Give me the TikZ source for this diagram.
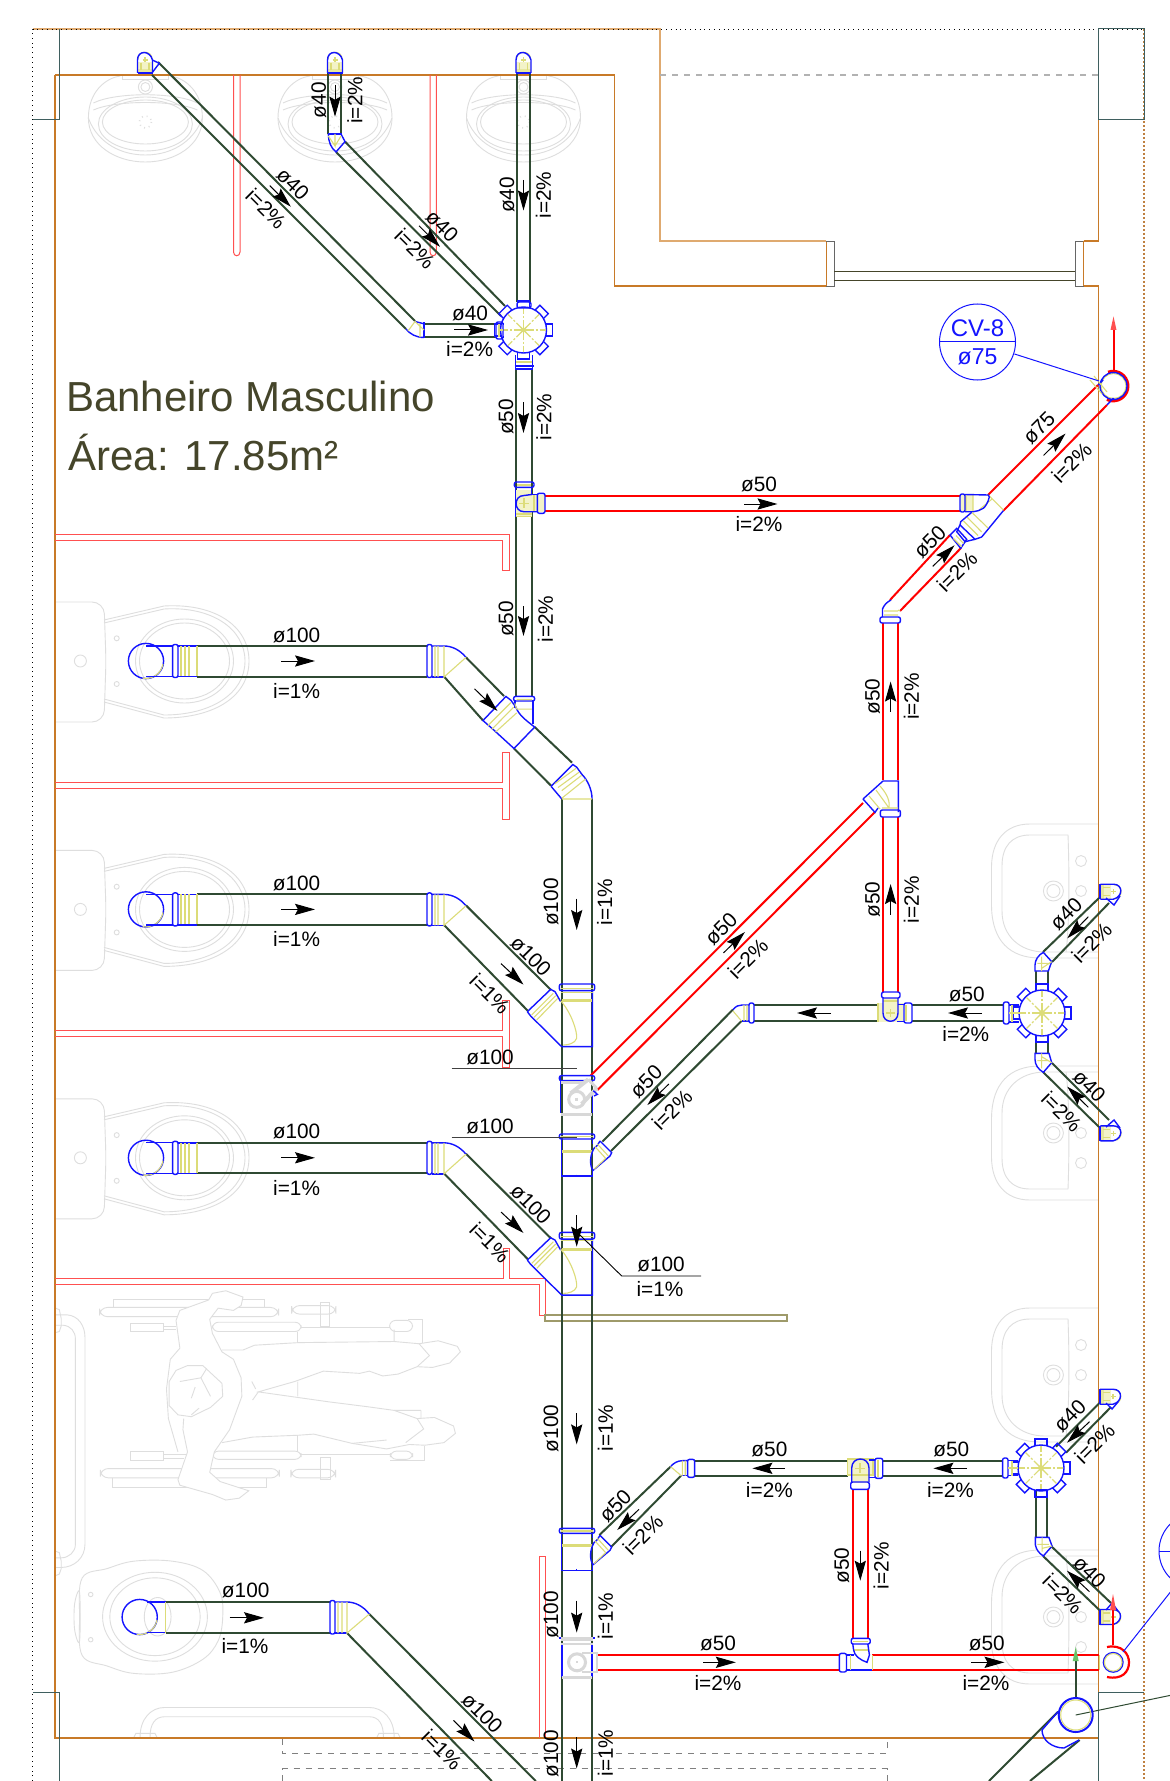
\documentclass[tikz,border=0pt]{standalone}
\usepackage{fontspec}
\setmainfont{Liberation Sans}
\usetikzlibrary{arrows.meta}
\definecolor{pipegreen}{HTML}{2F4A32}
\definecolor{wallc}{HTML}{C87A28}
\definecolor{wallb}{HTML}{DFAA70}
\definecolor{tealc}{HTML}{3F5F5F}
\definecolor{titlec}{HTML}{45452A}
\definecolor{fitblue}{HTML}{1414FF}
\definecolor{fityel}{HTML}{DCDC78}
\definecolor{paley}{HTML}{F3F3C8}
\definecolor{fixc}{HTML}{DEDEDE}
\definecolor{partred}{HTML}{FF5050}
\definecolor{fitgray}{HTML}{D8D8D8}
\tikzset{
 gp/.style={draw=pipegreen,line width=1pt},
 rp/.style={draw=red,line width=1pt},
 bl/.style={draw=fitblue,line width=.7pt},
 yl/.style={draw=fityel,line width=.55pt},
 yb/.style={draw=fityel,line width=1.5pt},
 fx/.style={draw=fixc,line width=.45pt},
 wall/.style={draw=wallc,line width=.6pt},
 part/.style={draw=partred,line width=.5pt},
 tealline/.style={draw=tealc,line width=.5pt},
 gr/.style={draw=fitgray,line width=1.2pt},
 txt/.style={font=\fontsize{10.4}{12}\selectfont,inner sep=0pt,text=black},
 flowarrow/.style={draw=black,line width=.5pt,-{Stealth[length=10pt,width=5.6pt,inset=1.5pt]}}
}
\newcount\lblno
\newcommand\lbl[4]{\global\advance\lblno by 1 \node[txt,rotate=#3] (L\the\lblno) at (#1,#2) {#4};}
\newcommand\arw[4]{\draw[flowarrow] (#1,#2)--(#3,#4);}
\newcommand\jbox[2]{\begin{scope}[shift={(#1,#2)}]
 \foreach \a in {0,45,...,315}{\begin{scope}[rotate=\a]\draw[bl] (21,-6) rectangle (29,6);\end{scope}}
 \draw[bl,fill=white] (0,0) circle[radius=23];
 \foreach \a in {0,45,...,315}{\begin{scope}[rotate=\a]\draw[yl,dash pattern=on 5pt off 1pt on 1pt off 1pt] (0,0)--(22,0);\draw[yl] (0,0)--(4,0);\end{scope}}
\end{scope}}
\newcommand\lavcap[3]{\begin{scope}[shift={(#1,#2)},rotate=#3]
 \fill[paley] (-7.5,2) rectangle (7.5,13);
 \fill[fityel!70] (-7.5,9.5) rectangle (7.5,13);
 \draw[yl] (-4,3)--(-4,10) (4,3)--(4,10) (-2.5,0)--(2.5,0) (0,-2.5)--(0,2.5);
 \draw[yl] (-7,-1) .. controls (-7,-10) and (7,-10) .. (7,-1);
 \draw[bl] (-7.5,13)--(-7.5,0) .. controls (-7.5,-10) and (5,-10) .. (7.5,0) -- (7.5,13);
 \draw[draw=fitblue,line width=1pt] (-7.5,13.5)--(7.5,13.5);
\end{scope}}
\newcommand\lavtop[1]{\begin{scope}[shift={(#1,0)}]
 \draw[fx] (-57,118) .. controls (-57,92) and (-40,78) .. (-25,76);
 \draw[fx] (57,118) .. controls (57,92) and (40,78) .. (25,76);
 \draw[fx] (-57,118) .. controls (-57,145) and (-30,162) .. (0,162) .. controls (30,162) and (57,145) .. (57,118);
 \draw[fx] (-57,118) .. controls (-50,138) and (-30,155) .. (0,155) .. controls (30,155) and (50,138) .. (57,118);
 \draw[fx] (-52,103) .. controls (-30,92) and (30,92) .. (52,103);
 \draw[fx] (-52,110) .. controls (-30,100) and (30,100) .. (52,110);
 \draw[fx] (0,122) ellipse[x radius=43,y radius=22];
 \draw[fx] (0,124) ellipse[x radius=47,y radius=27];
 \draw[fx] (0,87) circle[radius=7];
 \draw[fx] (0,87) circle[radius=4.5];
 \draw[fx,dotted,line width=.8pt] (0,122) circle[radius=6];
 \draw[fx] (-23,75)--(-23,79)--(23,79)--(23,75);
\end{scope}}
\newcommand\wcfix[2]{\begin{scope}[shift={(0,#1)}]
 \draw[fx,rounded corners=6pt] (55,-59)--(104,-59)--(106,0)--(104,61)--(55,61);
 \draw[fx] (104,-41)--(164,-55) .. controls (215,-58) and (249,-35) .. (249,0) .. controls (249,35) and (215,57) .. (164,57)--(104,41);
 \draw[fx] (104,-38)--(164,-52) .. controls (212,-55) and (245,-32) .. (245,0) .. controls (245,32) and (212,54) .. (164,54)--(104,38);
 \draw[fx] (184.5,0) ellipse[x radius=49,y radius=42];
 \draw[fx] (184.5,0) ellipse[x radius=45,y radius=38];
 \draw[fx] (80.4,0) circle[radius=6];
 \draw[fx] (116.7,-22.7) circle[radius=2.5];
 \draw[fx] (116.7,23) circle[radius=2.5];
\end{scope}}
\newcommand\wcpipe[2]{\begin{scope}[shift={(0,#1)}]
 \draw[gp] (197,-15)--(427,-15) (197,15.5)--(427,15.5);
 \draw[bl] (146,0) circle[radius=17.6];
 \draw[yl] (163,3) arc[start angle=10,end angle=100,radius=17.6];
 \draw[bl] (146,-15.2)--(172.6,-15.2) (146,15.5)--(172.6,15.5);
 \draw[bl,rounded corners=1pt] (172.6,-16.5) rectangle (178,16.5);
 \draw[bl] (178,-15)--(197,-15) (178,15.5)--(197,15.5);
 \draw[yl] (181,-15)--(181,15) (185,-15)--(185,15) (189,-15)--(189,15) (197,-15)--(197,15);
 \draw[bl,rounded corners=1pt] (427,-16.5) rectangle (432,16.5);
 \draw[bl] (432,-15)--(444,-15) .. controls (452,-15) and (460,-11) .. (466,-3.6);
 \draw[bl] (432,16)--(444,16);
 \draw[yl] (435,-15)--(435,16) (438,-15)--(438,16) (444,-15)--(444,16)--(466,-3.6);
 \lbl{296.6}{-26}{0}{ø100}
 \arw{281.3}{0}{315}{0}
 \lbl{296.6}{30}{0}{i=1\%}
\end{scope}}
\newcommand\tfitY[1]{\begin{scope}[shift={(440,#1)},scale=1/3]
 \draw[bl] (262,155)--(332,88)--(345,95)--(362,125);
 \draw[bl] (262,155)--(272,168)--(365,260)--(457,260)--(457,92);
 \draw[bl,rounded corners=1pt] (358,72) rectangle (464,92);
 \draw[yl] (275,165)--(340,100) (282,172)--(347,107) (290,180)--(353,115);
 \draw[yl] (362,85)--(458,85) (362,97)--(458,97);
 \draw[yb] (365,122)--(457,122);
 \draw[yl] (362,122) .. controls (395,160) and (412,215) .. (410,235) .. controls (405,250) and (385,255) .. (370,255);
\end{scope}}
\newcommand\tfitR[1]{\begin{scope}[shift={(440,#1)},scale=1/3]
 \draw[bl,rounded corners=1pt] (358,522) rectangle (464,537);
 \draw[bl] (365,537)--(365,648)--(457,648)--(457,632) (457,537)--(457,552);
 \draw[bl] (410,644)--(410,650);
 \draw[yl] (362,530)--(458,530);
 \draw[yb] (365,573)--(455,573);
 \draw[bl] (480,543)--(515,578)--(510,588)--(458,632) .. controls (450,615) and (448,590) .. (462,565)--(472,556)--(480,543);
 \draw[yl] (472,552)--(505,588) (465,560)--(497,595) (497,595)--(462,628);
\end{scope}}
\begin{document}
\begin{tikzpicture}[x=0.5pt,y=-0.5pt]
\clip (0,0) rectangle (1170,1781);
\fill[white] (0,0) rectangle (1170,1781);
% ---------- fixtures ----------
\lavtop{145.4}\lavtop{335}\lavtop{523.5}
\wcfix{661}{}\wcfix{909.4}{}\wcfix{1157.8}{}
% right basins
\foreach \yy/\ss in {891/1,1133/-1,1375/1,1617/-1}{
 \begin{scope}[shift={(0,\yy)},yscale=\ss]
 \draw[fx] (1098,-67)--(1030,-67) .. controls (1005,-67) and (992,-50) .. (991.5,-25) -- (991.5,15) .. controls (992,50) and (1010,67) .. (1040,67)--(1098,67);
 \draw[fx] (1068,-56) -- (1030,-56) .. controls (1012,-56) and (1002,-45) .. (1002,-25) -- (1002,20) .. controls (1002,45) and (1020,61) .. (1045,61)--(1098,61);
 \draw[fx] (1068,-56) .. controls (1069,-30) and (1070,30) .. (1066,61);
 \draw[fx] (1053.4,0) circle[radius=10];
 \draw[fx] (1053.4,0) circle[radius=6.5];
 \draw[fx] (1081,-30) circle[radius=5.5];
 \draw[fx] (1081,0) circle[radius=5.5];
 \end{scope}}
% wheelchair, grab bars, lower wc (zoom coordinates)
\begin{scope}[shift={(0,1200)},xscale=0.3827,yscale=0.3704]
 \draw[fx,rounded corners=4pt] (260,290) rectangle (728,315);
 \draw[fx] (297,290)--(297,268)--(692,268)--(692,290);
 \draw[fx,rounded corners=4pt] (762,285) rectangle (878,308);
 \draw[fx] (838,277) rectangle (862,340);
 \draw[fx] (340,333) rectangle (428,356);
 \draw[fx] (428,340)--(460,340) (428,350)--(460,350);
 \draw[fx,rounded corners=3pt] (555,330) rectangle (787,355);
 \draw[fx] (787,345)--(1020,345);
 \draw[fx,rounded corners=3pt] (1018,325) rectangle (1078,355);
 \draw[fx] (1065,322)--(1105,322)--(1105,385);
 \draw[fx] (778,355)--(778,385);
 \draw[fx,rounded corners=4pt] (262,725) rectangle (730,750);
 \draw[fx] (295,750)--(295,775)--(695,775)--(695,750);
 \draw[fx,rounded corners=4pt] (760,727) rectangle (877,750);
 \draw[fx] (838,695) rectangle (863,755);
 \draw[fx] (340,680) rectangle (428,703);
 \draw[fx] (428,686)--(490,686) (428,697)--(480,697);
 \draw[fx,rounded corners=3pt] (555,678) rectangle (787,700);
 \draw[fx] (787,688)--(1020,688);
 \draw[fx,rounded corners=3pt] (1020,678) rectangle (1078,700);
 \draw[fx] (1110,665)--(1110,702)--(1020,702);
 \draw[fx] (778,635)--(778,678);
 \draw[fx,fill=white] (460,325)--(470,298)--(545,270)--(555,252)--(590,245)--(635,262)--(630,285)--(610,298)--(570,292)--(548,322)--(555,360)--(580,410)--(610,430)--(630,480)--(632,530)--(600,620)--(560,680)--(548,735)--(575,760)--(650,785)--(625,805)--(590,810)--(555,795)--(470,770)--(465,755)--(490,680)--(478,620)--(480,590);
 \draw[fx] (460,325)--(470,400)--(445,430)--(435,510)--(440,590)--(465,680);
 \draw[fx,fill=white] (442,490)--(460,460)--(490,447)--(530,447)--(580,495)--(582,530)--(550,560)--(500,585)--(465,580)--(442,555)--cycle;
 \draw[fx] (470,490)--(525,480)--(540,455) (525,480)--(550,530) (510,505)--(500,535) (500,580)--(520,562);
 \draw[fx] (580,405)--(635,405)--(665,392)--(780,385)--(1030,382)--(1095,388)--(1145,380)--(1195,395)--(1203,410)--(1175,440)--(1130,452)--(1090,450)--(1040,470)--(1000,475)--(965,462)--(940,468)--(845,462)--(770,490)--(675,518)--(860,545)--(960,558)--(1030,568)--(1090,590)--(1135,587)--(1185,610)--(1190,630)--(1160,655)--(1110,662)--(1070,660)--(1010,672)--(920,657)--(820,632)--(780,635)--(660,640)--(580,655);
 \draw[fx] (1095,388)--(1122,420)--(1090,450) (1090,590)--(1107,618)--(1060,655) (658,490)--(668,510) (675,518)--(660,540) (778,490)--(778,530) (920,657)--(1010,648) (1030,382)--(1030,350) (1100,568)--(1100,590) (1030,568)--(1100,568);
 % grab bars
 \draw[fx] (145,310)--(175,310) .. controls (205,312) and (222,340) .. (222,370) -- (222,930) .. controls (222,965) and (195,992) .. (160,992)--(145,992);
 \draw[fx] (145,338)--(165,338) .. controls (185,340) and (197,355) .. (197,375) -- (197,930) .. controls (197,950) and (180,966) .. (160,966)--(145,966);
 \draw[fx] (145,292)--(155,296)--(160,320)--(160,340)--(155,355)--(145,358);
 \draw[fx] (145,948)--(155,952)--(160,975)--(160,995)--(155,1010)--(145,1014);
 \draw[fx] (366,1450) .. controls (366,1400) and (395,1370) .. (430,1370) -- (965,1370) .. controls (1000,1370) and (1030,1400) .. (1030,1450);
 \draw[fx] (392,1450) .. controls (392,1415) and (405,1395) .. (430,1395) -- (965,1395) .. controls (990,1395) and (1002,1415) .. (1002,1450);
 \draw[fx] (350,1450)--(355,1440)--(405,1440)--(410,1450) (985,1450)--(990,1440)--(1040,1440)--(1045,1450);
 % lower wc
 \draw[fx] plot[smooth cycle,tension=.6] coordinates {(215,1020) (280,995) (350,975) (450,975) (530,1000) (575,1060) (582,1125) (570,1190) (530,1240) (450,1275) (350,1278) (280,1258) (215,1230) (208,1125)};
 \draw[fx] plot[smooth cycle,tension=.6] coordinates {(195,1090) (208,1060) (208,1190) (195,1160)};
 \draw[fx] (405,1125) ellipse[x radius=137,y radius=120];
 \draw[fx] (405,1125) ellipse[x radius=118,y radius=105];
 \draw[fx] (412,1125) ellipse[x radius=35,y radius=52];
 \draw[fx] (237,1065) circle[radius=6];
 \draw[fx] (237,1187) circle[radius=6];
\end{scope}
% ---------- walls ----------
\draw[draw=wallb,line width=.7pt] (32.5,29)--(660,29)--(660,241)--(826,241);
\draw[wall] (55,75)--(614.5,75)--(614.5,286)--(826,286);
\draw[wall] (55,75)--(55,1738)--(1098.5,1738);
\draw[wall] (1083.6,241)--(1098.5,241)--(1098.5,120);
\draw[wall] (1083.6,286)--(1098.5,286)--(1098.5,1692);
\draw[draw=gray!60,dashed,line width=.6pt] (660,75)--(1098.5,75);
\draw[draw=black,dotted,line width=.4pt] (32.5,1781)--(32.5,29)--(1144,29);
\draw[draw=brown,densely dotted,line width=1pt] (1144,29)--(1144,1781);
\draw[tealline] (32.5,120)--(59.7,120)--(59.7,29);
\draw[tealline] (1098.5,29) rectangle (1144,120);
\draw[tealline] (32.5,1692.7)--(59.7,1692.7)--(59.7,1781);
\draw[tealline] (1144,1692.7)--(1098.5,1692.7)--(1098.5,1781);
% window
\draw[draw=wallc,line width=.5pt] (826,286)--(826,241);
\draw[draw=black!60,line width=.4pt] (826,241)--(834,241)--(834,286)--(826,286);
\draw[draw=titlec,line width=.5pt] (834,271.3)--(1075.6,271.3) (834,280.5)--(1075.6,280.5);
\draw[draw=black!60,line width=.4pt] (1083.6,241)--(1075.6,241)--(1075.6,286)--(1083.6,286);
\draw[draw=wallc,line width=.5pt] (1083.6,241)--(1083.6,286);
% dashed below
\draw[draw=gray,dashed,line width=.4pt] (282,1739)--(282,1753)--(887,1753)--(887,1739);
\draw[draw=gray,dashed,line width=.4pt] (282,1781)--(282,1768.5)--(887,1768.5)--(887,1781);
% ---------- partitions ----------
\draw[part] (233.5,75)--(233.5,252) .. controls (233.5,257) and (240,257) .. (240,252)--(240,75);
\draw[part] (430,75)--(430,252) .. controls (430,257) and (436.3,257) .. (436.3,252)--(436.3,75);
\draw[part] (55,534.6)--(509,534.6)--(509,570.6)--(502.5,570.6)--(502.5,540.4)--(55,540.4);
\draw[part] (55,782.5)--(502.5,782.5)--(502.5,752.3)--(509,752.3)--(509,819)--(502.5,819)--(502.5,788.7)--(55,788.7);
\draw[part] (55,1030.5)--(502.5,1030.5)--(502.5,1000)--(509,1000)--(509,1067)--(502.5,1067)--(502.5,1036.3)--(55,1036.3);
\draw[part] (55,1278.5)--(503,1278.5)--(503,1248)--(509,1248)--(509,1278.5)--(545,1278.5)--(545,1315)--(539,1315)--(539,1284.4)--(55,1284.4);
\draw[draw=black!45!olive!60,line width=.8pt] (545,1315) rectangle (787,1321);
\draw[part] (539,1738)--(539,1556.7)--(545,1556.7)--(545,1738);
% ---------- green pipes ----------
\draw[gp] (158,62)--(415,321) (152,75)--(406,329);
\draw[gp] (425,324)--(496,324) (425,337)--(496,337);
\draw[gp] (517.4,73)--(517.4,302) (530.4,73)--(530.4,302);
\draw[gp] (328.4,73)--(328.4,134) (341,73)--(341,134);
\draw[gp] (345,141.6)--(505,306) (336,152)--(501,316);
\draw[gp] (516,369)--(516,696) (532,369)--(532,696);
\draw[gp] (466,657.4)--(504,696) (444,676.5)--(483,720.5);
\draw[gp] (534.6,727)--(572,762.6) (514,748.5)--(551,785.6);
\draw[gp] (562,799)--(562,1781) (592,799)--(592,1781);
\draw[gp] (466,905.4)--(551,990) (444,925)--(528,1011);
\draw[gp] (466,1153.8)--(551,1238.4) (444,1173.4)--(528,1259.4);
\draw[gp] (369.3,1614)--(535.8,1781) (347,1633)--(491.8,1781);
\draw[gp] (754,1005)--(880,1005) (754,1021)--(880,1021) (912,1005)--(1003,1005) (912,1021)--(1003,1021);
\draw[gp] (733,1009.5)--(602.5,1141.5) (741.5,1021)--(611,1151);
\draw[gp] (1036,971)--(1036,1000) (1048,971)--(1048,990) (1036,1030)--(1036,1053) (1048,1036)--(1048,1053);
\draw[gp] (1043,952)--(1099,898) (1052,962)--(1109,903);
\draw[gp] (1052,1063)--(1109,1120) (1043,1072)--(1099,1127);
\draw[gp] (599.4,1535)--(670.5,1466.7) (611,1547)--(681,1475.7);
\draw[gp] (695,1460.7)--(848.4,1460.7) (695,1475.7)--(848.4,1475.7) (882,1460.7)--(1002.6,1460.7) (882,1475.7)--(1002.6,1475.7);
\draw[gp] (1056,1446.7)--(1099.4,1403) (1066,1452.7)--(1111,1407);
\draw[gp] (1036,1490)--(1036,1537) (1047,1490)--(1047,1537);
\draw[gp] (1051,1546)--(1111,1603) (1043,1556)--(1099.4,1610);
\draw[gp] (1058,1711.7)--(989,1781) (1079.6,1740)--(1030,1781);
% ---------- red pipes ----------
\draw[rp] (545,496)--(960,496) (545,511)--(960,511);
\draw[rp] (988,495)--(1098,385) (1003.3,510.7)--(1107,405);
\draw[rp] (890,600)--(950,535) (900,611)--(961,548);
\draw[rp] (883,623)--(883,780) (898,623)--(898,780) (883,817)--(883,992) (898,817)--(898,992);
\draw[rp] (863,803)--(590.6,1075.7) (875,812)--(597.4,1090);
\draw[rp] (852.8,1489)--(852.8,1638) (867.8,1489)--(867.8,1638);
\draw[rp] (597.4,1655)--(838.5,1655) (597.4,1670)--(838.5,1670) (872,1655)--(1099.4,1655) (872,1670)--(1099.4,1670);
% ---------- wc pipes ----------
\wcpipe{661}{}\wcpipe{909.4}{}\wcpipe{1157.8}{}
% lower wc pipe
\draw[gp] (165.7,1602)--(330,1602) (165.7,1632.6)--(330,1632.6);
\draw[bl] (139.7,1617) circle[radius=17.6];
\draw[yl] (157,1620) arc[start angle=10,end angle=100,radius=17.6];
\draw[bl] (147,1602)--(165.7,1602) (147,1632.6)--(165.7,1632.6);
\draw[yl] (165.7,1602)--(165.7,1632.6);
\draw[bl,rounded corners=1pt] (330,1600.5) rectangle (335,1634);
\draw[bl] (335,1602)--(347,1602) .. controls (355,1602) and (363,1606) .. (369.3,1614);
\draw[bl] (335,1633)--(347,1633);
\draw[yl] (338,1602)--(338,1633) (342,1602)--(342,1633) (347,1602)--(347,1633)--(369.3,1614);
\lbl{245.7}{1590.7}{0}{ø100}
\arw{229.6}{1617.8}{264}{1617.8}
\lbl{245}{1646.3}{0}{i=1\%}
% ---------- fittings ----------
\lavcap{145}{60}{0}\lavcap{335}{60}{0}\lavcap{523.5}{60}{0}
\draw[bl] (152.3,60)--(159.3,63.3)--(151.7,73.3);
\lavcap{1113.3}{891.7}{-90}\lavcap{1113.3}{1133.3}{-90}\lavcap{1113}{1396.7}{-90}\lavcap{1113}{1617}{-90}
\draw[bl] (1106,898)--(1114,905)--(1120,896);
\draw[bl] (1106,1127)--(1114,1120)--(1120,1128);
\draw[bl] (1106,1403)--(1112,1409)--(1118,1402);
\draw[bl] (1106,1610)--(1112,1603)--(1118,1611);
% elbow pipe A
\draw[bl] (415,321.5)--(424,323.8) (406,329) .. controls (410,334) and (416,337.5) .. (424,337.5);
\draw[bl,line width=1pt] (424,322.5)--(424,338.5);
\draw[yl] (415,321.5)--(424,330) (408,331)--(415,321.5) (420,323.8)--(420,337.5);
% elbow pipe 2
\draw[bl] (328.4,134) .. controls (328.4,142) and (331,148) .. (336,152)--(345,141.6)--(341,134);
\draw[bl,line width=1pt] (328,134)--(342,134);
\draw[yl] (335,134)--(335,146)--(328.4,136) (335,146)--(341,136);
% red T at 504
\fill[paley] (515.7,490) rectangle (531.7,516.7);
\draw[yl] (515.7,516.7)--(531.7,516.7) (515.7,514)--(531.7,514) (517,485)--(531,485);
\draw[yl] (519,503.3)--(529,503.3) (524,498.3)--(524,508.3);
\fill[paley] (531.7,494.5) rectangle (545,511.5);
\draw[yl] (534,494.5)--(534,511.5);
\draw[bl,rounded corners=1pt] (514.3,482) rectangle (534,487.3);
\draw[bl] (515.7,487.3)--(515.7,516.7) (531.7,487.3)--(531.7,494.5);
\draw[bl] (531.7,494.5)--(524,495.5) .. controls (513.5,495.5) and (513.5,511.7) .. (524,511.7)--(537.3,511.7);
\draw[bl] (531.7,494.5)--(537.3,494.5);
\draw[bl,rounded corners=1pt] (537.3,493.3) rectangle (545,513.3);
% top box extras and box
\jbox{523.5}{330}
\draw[bl,rounded corners=1pt] (496,322) rectangle (503,339);
\draw[yl] (499,324)--(499,337) (503,330)--(500,330);
\draw[bl] (503,324)--(504,324) (503,337)--(504,337);
\draw[bl] (515.5,355)--(515.5,369)--(532.7,369)--(532.7,355);
\draw[bl,line width=1pt] (514.5,366)--(533.5,366);
\draw[yl] (516,362)--(532,362);
\draw[bl,rounded corners=1pt] (517,302) rectangle (531,308);
% Y fitting WC1 and upper elbow (zoom coordinates)
\begin{scope}[shift={(0,600)},scale=0.3827]
 \draw[bl,fill=white] (1262,315)--(1322,252)--(1335,262)--(1348,280) .. controls (1355,300) and (1375,315) .. (1397,332)--(1343,388)--(1285,335)--cycle;
 \draw[bl,fill=white] (1346,262)--(1346,282) (1393,262)--(1393,325);
 \draw[bl,rounded corners=1pt] (1342,252) rectangle (1397,264);
 \draw[yl] (1275,328)--(1335,268) (1285,338)--(1342,280) (1295,345)--(1350,295);
 \draw[yl] (1350,285)--(1390,285) (1350,260)--(1390,260) (1350,285)--(1345,270);
 \draw[bl,fill=white] (1440,487)--(1497,430)--(1507,437)--(1520,455) .. controls (1535,470) and (1547,495) .. (1547,520);
 \draw[bl] (1468,520)--(1440,487);
 \draw[yl] (1468,520)--(1547,520) (1450,480)--(1505,440) (1458,490)--(1513,450) (1468,498)--(1520,458) (1468,518)--(1530,468);
\end{scope}
\tfitY{960}\tfitY{1208.4}
% gray T 1
\begin{scope}[shift={(440,960)},scale=1/3]
 \draw[bl] (362,347)--(362,460) (457,395)--(457,460);
 \draw[bl,rounded corners=1pt] (358,347) rectangle (464,362);
 \draw[gr] (362,368)--(430,368);
 \draw[gr,line width=1.5pt] (362,462)--(457,462);
 \draw[gr,line width=1.5pt] (410,418) circle[radius=24];
 \draw[gr] (405,418)--(415,418) (410,413)--(410,423);
 \draw[gr,line width=2pt] (392,400)--(445,358) (425,432)--(470,385);
 \draw[gr,line width=1.5pt] (445,358)--(470,385);
 \draw[bl] (460,392)--(472,403)--(462,408);
\end{scope}
\tfitR{960}\tfitR{1354.3}
% gray T 2
\draw[bl] (562,1643)--(562,1677) (592,1643)--(592,1677);
\draw[draw=fitblue,line width=.7pt] (559,1638)--(561,1638) (593,1638)--(595,1638);
\draw[gr,line width=2pt] (561,1639)--(593,1639);
\draw[gr] (561,1644)--(593,1644);
\draw[gr,line width=1.5pt] (562,1677)--(592,1677);
\draw[gr,line width=1.5pt] (577,1662.3) circle[radius=8.5];
\draw[gr] (582,1653)--(597,1653)--(597,1672)--(582,1672);
\fill[fitgray] (576,1661.3) rectangle (578,1663.3);
% junction x=890 (arch downward)
\fill[paley] (878,1003) rectangle (903,1022);
\fill[paley] (883,998) rectangle (898,1006);
\draw[yl] (878,1003)--(878,1022) (886,1013)--(895,1013) (890.6,1009)--(890.6,1017) (883,1001)--(898,1001) (906,1005)--(906,1021);
\draw[bl,rounded corners=1pt] (881.6,992) rectangle (900,998);
\draw[bl] (883,998)--(883,1013) .. controls (883,1024) and (898,1024) .. (898,1013)--(898,998);
\draw[bl] (898,1004.5)--(904,1004.5) (897,1021.5)--(904,1021.5);
\draw[bl,rounded corners=1pt] (904,1003) rectangle (912,1023);
% elbow at 754
\draw[bl,rounded corners=1pt] (749,1003) rectangle (754,1023);
\draw[bl] (749,1005)--(742,1005) .. controls (739,1005) and (736,1006) .. (733,1009.5);
\draw[bl] (749,1021)--(741.5,1021);
\draw[yl] (744,1005)--(744,1021) (747,1005)--(747,1021) (733,1011)--(741.5,1021);
% right box
\jbox{1042}{1013}
\draw[bl,rounded corners=1pt] (1003.4,1002) rectangle (1009,1024);
\draw[bl] (1009,1005)--(1019,1005) (1009,1022)--(1019,1022);
\draw[yl] (1012,1005)--(1012,1022) (1009,1013)--(1020,1013);
\begin{scope}[shift={(980,860)},scale=1/3]
 \draw[bl,fill=white] (165,333)--(165,315) .. controls (165,300) and (175,285) .. (190,277)--(215,305)--(205,333)--cycle;
 \draw[yl] (185,290)--(185,333) (172,310)--(205,310) (185,325)--(215,305);
 \draw[bl,fill=white] (165,580)--(165,598) .. controls (165,615) and (175,628) .. (190,637)--(215,608)--(207,580)--cycle;
 \draw[yl] (185,625)--(185,580) (172,602)--(205,602) (185,590)--(215,608);
\end{scope}
% lower box
\jbox{1041}{1468}
\draw[bl,rounded corners=1pt] (1002.6,1458) rectangle (1008,1478);
\draw[bl] (1008,1460.7)--(1018,1460.7) (1008,1475.7)--(1018,1475.7);
\draw[yl] (1012,1460.7)--(1012,1475.7) (1008,1468)--(1018,1468);
\draw[bl] (1036,1490)--(1047,1490);
% T 860,1468
\fill[paley] (847.3,1459) rectangle (873,1475);
\fill[paley] (851.7,1475) rectangle (869,1483);
\draw[yl] (847.3,1459)--(847.3,1475)--(873,1475)--(873,1459)--cycle (855,1468.3)--(865,1468.3) (860,1463.3)--(860,1473.3) (878,1460)--(878,1477);
\draw[bl] (851.7,1482) -- (851.7,1468) .. controls (851.7,1456) and (869,1456) .. (869,1468) -- (869,1482);
\draw[bl,rounded corners=1pt] (850.7,1482) rectangle (869.3,1489.3);
\draw[bl] (869,1460)--(875,1460) (868.5,1477.3)--(875,1477.3);
\draw[bl,rounded corners=1pt] (875,1458.3) rectangle (882.7,1478.3);
\begin{scope}[shift={(550,1300)},xscale=0.3953,yscale=1/3]
 \draw[bl,fill=white] (1228,712)--(1228,735) .. controls (1230,750) and (1238,760) .. (1248,768)--(1270,738)--(1262,712)--cycle;
 \draw[yl] (1245,712)--(1245,755) (1233,733)--(1262,733) (1245,745)--(1270,738);
 % elbow 695
 \draw[bl,rounded corners=1pt] (348,478) rectangle (366,532);
 \draw[bl] (348,482)--(335,482) .. controls (322,482) and (312,490) .. (305,500);
 \draw[bl] (348,527)--(332,527);
 \draw[yl] (335,482)--(335,527) (342,482)--(342,527) (305,500)--(332,527);
 % red T lower
 \draw[bl,rounded corners=1pt] (762,1015) rectangle (810,1032);
 \draw[yl] (766,1025)--(804,1025) (768,1050)--(806,1050) (815,1065)--(815,1110);
 \draw[bl] (766,1032)--(768,1050) .. controls (770,1068) and (785,1080) .. (802,1087)--(808,1065)--(804,1032);
 \draw[bl,rounded corners=1pt] (732,1060) rectangle (750,1116);
 \draw[bl] (750,1065)--(768,1065);
 \draw[bl] (750,1110)--(815,1110);
 \draw[yl] (760,1065)--(760,1110);
\end{scope}
% red T at 781..817
\draw[bl] (863,799)--(883,781)--(898.3,781)--(898.3,812);
\draw[bl] (863,799)--(875,812.4)--(878,808);
\draw[bl,rounded corners=1pt] (880.3,810) rectangle (900.4,817);
\draw[yl] (869,796)--(880,809) (876,790)--(889,808) (880,786) .. controls (888,795) and (890,802) .. (889,808) (882,808)--(898,808);
% red elbow top
\draw[bl,rounded corners=1pt] (880,617) rectangle (900.4,623);
\draw[bl] (882.5,617)--(882.5,609) .. controls (884,605) and (887,602) .. (891,600);
\draw[yl] (884,611)--(898,611) (884,615)--(898,615) (898,610)--(900,611);
% T at 960..990 and coupling
\fill[paley] (960,495) rectangle (973,511);
\draw[yl] (966,495)--(966,511) (973,495)--(973,511) (988.3,495)--(1003.3,510) (980,509)--(992,499);
\draw[bl,rounded corners=1pt] (960,494) rectangle (965,512);
\draw[bl] (965,494.5)--(988.3,495)--(989.3,497) .. controls (988,503) and (985,507) .. (983.3,508.3) .. controls (980,510) and (977,511.7) .. (973.3,511.7)--(965,511.7);
\draw[bl] (1003.3,510.7)--(981.7,537);
\draw[yl] (971.7,512.3)--(988,528) (967,517)--(981.7,532) (963.5,521)--(978,535.5);
\draw[bl] (971.7,512.3)--(960.7,521.7)--(960,525)--(975,539.3)--(981.7,537);
\draw[bl] (960,525)--(956.7,531.7)--(965,541.7)--(975,539.3);
\draw[bl] (950,535)--(956.7,528.3)--(966.7,539.3)--(960.7,548.3)--cycle;
\draw[yl] (953.3,538.3)--(961.7,546.7) (956,535.5)--(963.5,543.5);
% CV-8 circle
\draw[yl] (1113.5,386) circle[radius=12.5];
\draw[draw=red,line width=1.3pt] (1108,372) arc[start angle=-110,end angle=115,radius=15];
\draw[draw=red,line width=1pt] (1113.5,371)--(1113.5,330);
\fill[partred] (1113.5,316.5)--(1110.5,330)--(1116.5,330)--cycle;
\draw[bl] (1113.5,386) circle[radius=13.5];
\draw[bl] (1098,385)--(1103,380) (1107,405)--(1113.5,398);
\draw[yl] (1094,376)--(1107,392) (1090,380)--(1102,394);
\draw[draw=fitblue,line width=.5pt] (977.5,342) circle[radius=38];
\draw[draw=fitblue,line width=.5pt] (939.5,342)--(1015.5,342);
\node[txt,text=fitblue,font=\fontsize{12}{14}\selectfont] (cvtop) at (977.5,328) {CV-8};
\node[txt,text=fitblue,font=\fontsize{11.5}{14}\selectfont] (cvbot) at (977.5,356.5) {ø75};
\draw[draw=fitblue,line width=.5pt] (1014.5,354)--(1099,381);
% lower right vents
\draw[bl] (1113.2,1662.3) circle[radius=9.8];
\draw[yl] (1113.2,1662.3) circle[radius=8.8];
\draw[yl] (1099.4,1655)--(1099.4,1670);
\draw[draw=red,line width=1.1pt] (1107,1647) .. controls (1122,1644) and (1129,1654) .. (1129,1662.3) .. controls (1129,1672) and (1122,1680) .. (1107,1677);
\draw[draw=red,line width=.8pt] (1113,1645)--(1113,1610);
\fill[partred] (1113,1594)--(1110,1610)--(1116,1610)--cycle;
\draw[draw=fitblue,line width=.5pt] (1123,1652)--(1172,1590);
\draw[draw=fitblue,line width=.5pt] (1197,1551) circle[radius=38];
\draw[draw=fitblue,line width=.5pt] (1159,1551)--(1175,1551);
\draw[draw=pipegreen,line width=1pt] (1075.7,1698)--(1075.7,1660);
\fill[green!60!black!60] (1075.7,1647)--(1072.7,1661)--(1078.7,1661)--cycle;
\draw[draw=pipegreen,line width=.5pt] (1075.7,1715)--(1172,1695);
\draw[draw=fitblue,line width=1pt] (1075.7,1715) circle[radius=17];
\draw[draw=fityel,line width=.5pt] (1075.7,1715) circle[radius=15];
\draw[bl] (1058,1711.7)--(1042,1730) .. controls (1042,1740) and (1052,1748) .. (1064,1748)--(1079,1740);
% ---------- leaders ----------
\draw[draw=black!75,line width=.45pt] (451.6,1068.4)--(576.7,1068.4);
\draw[draw=black!75,line width=.45pt] (451.6,1137.7)--(576.7,1137.7);
\draw[draw=black,line width=.45pt] (580,1235)--(621.7,1276)--(701,1276);
\lbl{490}{1057}{0}{ø100}
\lbl{490}{1126}{0}{ø100}
\lbl{661}{1264.5}{0}{ø100}
\lbl{660}{1289}{0}{i=1\%}
% ---------- labels & arrows ----------
\lbl{292.8}{184.5}{-45}{ø40}\lbl{266}{208.6}{-45}{i=2\%}\arw{269.8}{185.6}{290.8}{206.7}
\lbl{318.8}{100.3}{90}{ø40}\lbl{355}{100.3}{90}{i=2\%}\arw{335}{85}{335}{116.7}
\lbl{442}{225.8}{-45}{ø40}\lbl{415}{248.8}{-45}{i=2\%}\arw{419}{225.8}{440}{246.8}
\lbl{507}{195}{90}{ø40}\lbl{543.4}{195}{90}{i=2\%}\arw{523.5}{180}{523.5}{210.5}
\lbl{470}{313.8}{0}{ø40}\arw{454}{330}{488}{330}\lbl{469.6}{349.4}{0}{i=2\%}
\lbl{506}{417}{90}{ø50}\lbl{544}{417}{90}{i=2\%}\arw{523.5}{402}{523.5}{433}
\lbl{506}{619}{90}{ø50}\lbl{545.3}{619}{90}{i=2\%}\arw{523.5}{606}{523.5}{636}
\lbl{759}{484}{0}{ø50}\arw{744.4}{504}{777.5}{504}\lbl{759}{524.3}{0}{i=2\%}
\lbl{1039}{428}{45}{ø75}\lbl{1071.6}{463}{45}{i=2\%}\arw{1043.6}{455.4}{1065.5}{433.6}
\lbl{929.8}{542.3}{45}{ø50}\lbl{957}{572}{45}{i=2\%}\arw{932.7}{566.4}{954.5}{545.3}
\arw{474.5}{688.8}{497.5}{711}
\lbl{551}{902}{90}{ø100}\lbl{604.7}{902}{90}{i=1\%}\arw{576.7}{898.5}{576.7}{930}
\lbl{530.8}{956}{-45}{ø100}\lbl{490}{994}{-45}{i=1\%}\arw{501}{963.6}{523.5}{984.6}
\lbl{530.8}{1204.4}{-45}{ø100}\lbl{490}{1242.4}{-45}{i=1\%}\arw{501}{1212}{523.5}{1233}
\arw{576.7}{1215}{576.7}{1246.7}
\lbl{721}{929}{45}{ø50}\lbl{747.9}{959}{45}{i=2\%}\arw{723.5}{952.9}{744.9}{932}
\lbl{872.6}{696.4}{90}{ø50}\lbl{911.5}{696.4}{90}{i=2\%}\arw{890.6}{711.7}{890.6}{681.5}
\lbl{872.6}{899.7}{90}{ø50}\lbl{911.5}{899.7}{90}{i=2\%}\arw{890.6}{914.6}{890.6}{884}
\arw{831}{1013}{797}{1013}
\lbl{966.7}{994}{0}{ø50}\arw{982}{1013}{948}{1013}\lbl{965.8}{1034}{0}{i=2\%}
\lbl{646}{1081.4}{45}{ø50}\lbl{672}{1110}{45}{i=2\%}\arw{668.8}{1084}{647.4}{1105}
\lbl{1066}{914.3}{45}{ø40}\lbl{1091.7}{942.7}{45}{i=2\%}\arw{1088.3}{916.7}{1067.3}{938.3}
\lbl{1089.3}{1086}{-45}{ø40}\lbl{1061.7}{1111.7}{-45}{i=2\%}\arw{1088.3}{1107.3}{1067.3}{1086.7}
\lbl{551}{1428.5}{90}{ø100}\lbl{605.5}{1428}{90}{i=1\%}\arw{576.7}{1413}{576.7}{1444.4}
\lbl{551}{1614.8}{90}{ø100}\lbl{605.5}{1616}{90}{i=1\%}\arw{576.7}{1600.7}{576.7}{1632.6}
\lbl{551}{1753.7}{90}{ø100}\lbl{605.5}{1753}{90}{i=1\%}\arw{576.7}{1737}{576.7}{1768.5}
\lbl{482.2}{1713}{-45}{ø100}\lbl{442}{1750}{-45}{i=1\%}\arw{453.5}{1720.4}{474.5}{1741.5}
\lbl{769.4}{1449}{0}{ø50}\arw{785}{1468.3}{752.4}{1468.3}\lbl{769.4}{1490}{0}{i=2\%}
\lbl{951.2}{1449}{0}{ø50}\arw{967}{1468.3}{933.4}{1468.3}\lbl{950.4}{1490}{0}{i=2\%}
\lbl{615.2}{1506}{45}{ø50}\arw{639}{1509.3}{617.2}{1530}\lbl{642.9}{1535}{45}{i=2\%}
\lbl{841.7}{1565.7}{90}{ø50}\lbl{881.2}{1565.7}{90}{i=2\%}\arw{860.3}{1550.7}{860.3}{1580.7}
\lbl{718}{1643.3}{0}{ø50}\arw{703}{1662.3}{735.8}{1662.3}\lbl{718}{1683.3}{0}{i=2\%}
\lbl{986.8}{1643.3}{0}{ø50}\arw{971}{1662.3}{1004.5}{1662.3}\lbl{986}{1683.3}{0}{i=2\%}
\lbl{1069.8}{1415.7}{45}{ø40}\lbl{1094.7}{1443.3}{45}{i=2\%}\arw{1089.5}{1421.7}{1067}{1442.7}
\lbl{1089.5}{1571.7}{-45}{ø40}\lbl{1063}{1594}{-45}{i=2\%}\arw{1089.5}{1591.7}{1067}{1570.7}
% title
\node[anchor=base west,inner sep=0pt,text=titlec,font=\fontsize{21}{25}\selectfont] (title) at (65.8,411.4) {Banheiro Masculino};
\node[anchor=base west,inner sep=0pt,text=titlec,font=\fontsize{21}{25}\selectfont] (area) at (68,470.7) {Área: 17.85m²};
\end{tikzpicture}
\end{document}
